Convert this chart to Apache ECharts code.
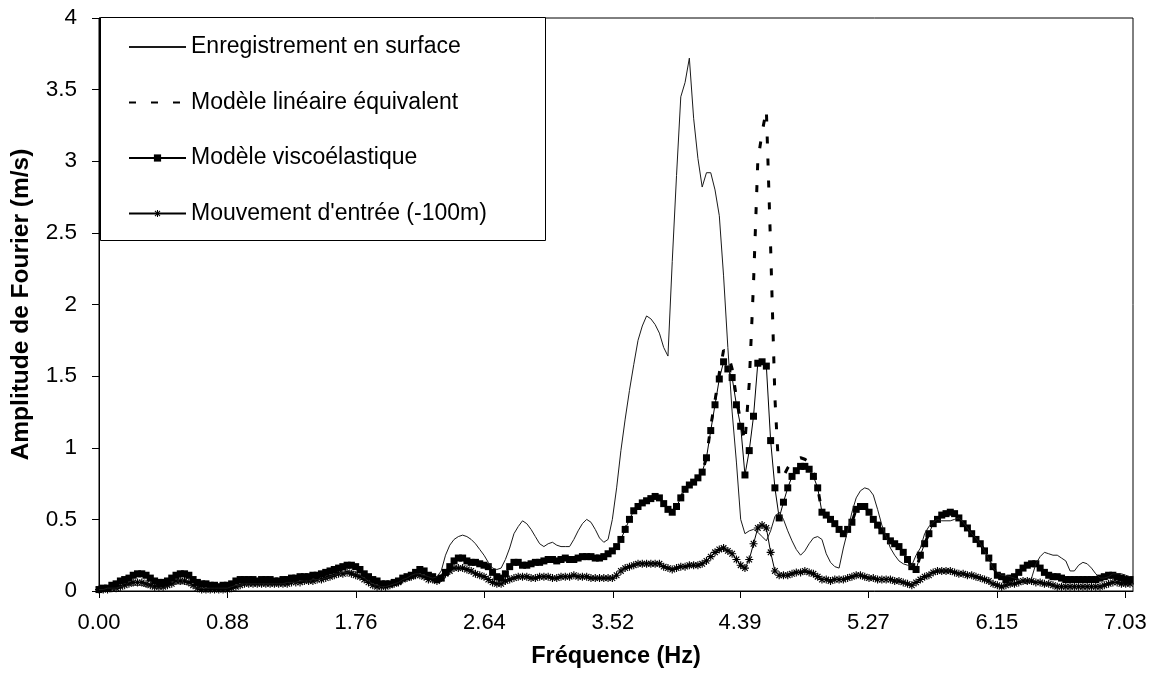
<!DOCTYPE html>
<html>
<head>
<meta charset="utf-8">
<script src="https://cdn.jsdelivr.net/npm/echarts@6/dist/echarts.min.js"></script>
<style>
  html, body { margin: 0; padding: 0; background: #fff; }
  #chart { width: 1156px; height: 682px; }
</style>
</head>
<body>
<div id="chart"></div>
<script>
// Spectral line spacing of the Fourier spectra (Hz)
const FREQ_STEP = 0.0293;

// Frequency tick labels (every 30 spectral lines)
const xTickLabels = ['0.00', '0.88', '1.76', '2.64', '3.52', '4.39', '5.27', '6.15', '7.03'];

const seriesNames = [
  'Enregistrement en surface',
  'Modèle linéaire équivalent',
  'Modèle viscoélastique',
  "Mouvement d'entrée (-100m)"
];

// Fourier amplitude (m/s), one value per spectral line
const surface = [
  0.01, 0.01, 0.02, 0.02, 0.02, 0.03, 0.03, 0.04, 0.04, 0.04,
  0.04, 0.03, 0.03, 0.02, 0.02, 0.02, 0.03, 0.04, 0.05, 0.05,
  0.05, 0.04, 0.03, 0.02, 0.02, 0.02, 0.02, 0.02, 0.02, 0.02,
  0.02, 0.03, 0.04, 0.04, 0.05, 0.05, 0.05, 0.05, 0.05, 0.05,
  0.05, 0.05, 0.05, 0.05, 0.06, 0.06, 0.06, 0.07, 0.07, 0.07,
  0.08, 0.08, 0.08, 0.09, 0.10, 0.11, 0.12, 0.13, 0.13, 0.14,
  0.13, 0.11, 0.09, 0.07, 0.05, 0.04, 0.03, 0.03, 0.04, 0.05,
  0.06, 0.08, 0.09, 0.11, 0.12, 0.12, 0.11, 0.10, 0.09, 0.10,
  0.14, 0.25, 0.32, 0.36, 0.38, 0.39, 0.38, 0.36, 0.33, 0.29,
  0.25, 0.20, 0.16, 0.15, 0.16, 0.22, 0.30, 0.40, 0.45, 0.49,
  0.47, 0.43, 0.38, 0.33, 0.31, 0.33, 0.34, 0.32, 0.31, 0.31,
  0.31, 0.36, 0.42, 0.47, 0.50, 0.48, 0.43, 0.37, 0.34, 0.36,
  0.50, 0.72, 0.98, 1.20, 1.40, 1.58, 1.75, 1.85, 1.92, 1.90,
  1.86, 1.80, 1.70, 1.64, 2.30, 2.90, 3.45, 3.55, 3.72, 3.30,
  3.02, 2.82, 2.92, 2.92, 2.80, 2.62, 2.20, 1.70, 1.25, 0.90,
  0.50, 0.40, 0.42, 0.43, 0.41, 0.38, 0.35, 0.42, 0.52, 0.55,
  0.50, 0.42, 0.35, 0.29, 0.25, 0.28, 0.33, 0.37, 0.38, 0.36,
  0.26, 0.20, 0.17, 0.16, 0.30, 0.42, 0.55, 0.65, 0.70, 0.72,
  0.71, 0.67, 0.57, 0.46, 0.38, 0.30, 0.25, 0.21, 0.19, 0.18,
  0.18, 0.25, 0.30, 0.40, 0.45, 0.48, 0.50, 0.49, 0.49, 0.49,
  0.50, 0.51, 0.48, 0.44, 0.40, 0.37, 0.33, 0.28, 0.22, 0.16,
  0.13, 0.11, 0.11, 0.10, 0.09, 0.08, 0.06, 0.05, 0.09, 0.19,
  0.24, 0.27, 0.26, 0.25, 0.25, 0.23, 0.21, 0.14, 0.14, 0.18,
  0.20, 0.19, 0.16, 0.12, 0.09, 0.09, 0.10, 0.12, 0.12, 0.12,
  0.11, 0.10
];

const linearEquivalent = [
  0.01, 0.02, 0.02, 0.04, 0.05, 0.07, 0.08, 0.09, 0.11, 0.12,
  0.12, 0.11, 0.09, 0.07, 0.06, 0.06, 0.07, 0.09, 0.11, 0.12,
  0.12, 0.11, 0.08, 0.06, 0.05, 0.05, 0.04, 0.04, 0.03, 0.04,
  0.04, 0.05, 0.07, 0.08, 0.08, 0.08, 0.08, 0.07, 0.08, 0.08,
  0.08, 0.07, 0.07, 0.08, 0.08, 0.09, 0.09, 0.10, 0.10, 0.10,
  0.11, 0.11, 0.12, 0.13, 0.14, 0.15, 0.16, 0.17, 0.18, 0.18,
  0.17, 0.15, 0.12, 0.10, 0.08, 0.07, 0.05, 0.05, 0.05, 0.06,
  0.07, 0.09, 0.10, 0.11, 0.13, 0.15, 0.14, 0.11, 0.10, 0.08,
  0.09, 0.13, 0.17, 0.21, 0.23, 0.23, 0.21, 0.20, 0.20, 0.19,
  0.18, 0.17, 0.13, 0.10, 0.09, 0.12, 0.17, 0.20, 0.20, 0.18,
  0.18, 0.19, 0.20, 0.20, 0.21, 0.22, 0.22, 0.21, 0.22, 0.23,
  0.22, 0.22, 0.23, 0.24, 0.24, 0.24, 0.23, 0.23, 0.24, 0.26,
  0.28, 0.31, 0.36, 0.43, 0.50, 0.56, 0.59, 0.615, 0.63, 0.645,
  0.66, 0.65, 0.61, 0.57, 0.55, 0.59, 0.65, 0.71, 0.74, 0.76,
  0.79, 0.83, 0.93, 1.15, 1.33, 1.52, 1.68, 1.66, 1.55, 1.35,
  1.18, 1.04, 1.45, 2.15, 3.00, 3.20, 3.36, 2.40, 1.35, 0.78,
  0.80, 0.86, 0.90, 0.92, 0.93, 0.92, 0.90, 0.83, 0.72, 0.55,
  0.53, 0.50, 0.47, 0.43, 0.40, 0.43, 0.48, 0.57, 0.59, 0.59,
  0.55, 0.50, 0.46, 0.42, 0.38, 0.35, 0.33, 0.31, 0.27, 0.22,
  0.17, 0.15, 0.25, 0.33, 0.40, 0.47, 0.50, 0.53, 0.54, 0.55,
  0.54, 0.51, 0.47, 0.44, 0.40, 0.36, 0.33, 0.28, 0.23, 0.17,
  0.11, 0.10, 0.08, 0.09, 0.10, 0.13, 0.16, 0.18, 0.19, 0.19,
  0.16, 0.13, 0.11, 0.10, 0.10, 0.09, 0.08, 0.08, 0.08, 0.08,
  0.08, 0.08, 0.08, 0.08, 0.09, 0.10, 0.11, 0.11, 0.10, 0.09,
  0.08, 0.08
];

const viscoelastic = [
  0.01, 0.02, 0.02, 0.04, 0.05, 0.07, 0.08, 0.09, 0.11, 0.12,
  0.12, 0.11, 0.09, 0.07, 0.06, 0.06, 0.07, 0.09, 0.11, 0.12,
  0.12, 0.11, 0.08, 0.06, 0.05, 0.05, 0.04, 0.04, 0.03, 0.04,
  0.04, 0.05, 0.07, 0.08, 0.08, 0.08, 0.08, 0.07, 0.08, 0.08,
  0.08, 0.07, 0.07, 0.08, 0.08, 0.09, 0.09, 0.10, 0.10, 0.10,
  0.11, 0.11, 0.12, 0.13, 0.14, 0.15, 0.16, 0.17, 0.18, 0.18,
  0.17, 0.15, 0.12, 0.10, 0.08, 0.07, 0.05, 0.05, 0.05, 0.06,
  0.07, 0.09, 0.10, 0.11, 0.13, 0.15, 0.14, 0.11, 0.10, 0.08,
  0.09, 0.13, 0.17, 0.21, 0.23, 0.23, 0.21, 0.20, 0.20, 0.19,
  0.18, 0.17, 0.13, 0.10, 0.09, 0.12, 0.17, 0.20, 0.20, 0.18,
  0.18, 0.19, 0.20, 0.20, 0.21, 0.22, 0.22, 0.21, 0.22, 0.23,
  0.22, 0.22, 0.23, 0.24, 0.24, 0.24, 0.23, 0.23, 0.24, 0.26,
  0.28, 0.31, 0.36, 0.43, 0.50, 0.56, 0.59, 0.615, 0.63, 0.645,
  0.66, 0.65, 0.61, 0.57, 0.55, 0.59, 0.65, 0.71, 0.74, 0.76,
  0.79, 0.83, 0.93, 1.12, 1.30, 1.48, 1.60, 1.55, 1.49, 1.30,
  1.15, 0.81, 0.98, 1.22, 1.59, 1.60, 1.57, 1.05, 0.72, 0.51,
  0.62, 0.72, 0.80, 0.84, 0.87, 0.87, 0.85, 0.80, 0.72, 0.55,
  0.53, 0.50, 0.47, 0.43, 0.40, 0.43, 0.48, 0.57, 0.59, 0.59,
  0.55, 0.50, 0.46, 0.42, 0.38, 0.35, 0.33, 0.31, 0.27, 0.22,
  0.17, 0.15, 0.25, 0.33, 0.40, 0.47, 0.50, 0.53, 0.54, 0.55,
  0.54, 0.51, 0.47, 0.44, 0.40, 0.36, 0.33, 0.28, 0.23, 0.17,
  0.11, 0.10, 0.08, 0.09, 0.10, 0.13, 0.16, 0.18, 0.19, 0.19,
  0.16, 0.13, 0.11, 0.10, 0.10, 0.09, 0.08, 0.08, 0.08, 0.08,
  0.08, 0.08, 0.08, 0.08, 0.09, 0.10, 0.11, 0.11, 0.10, 0.09,
  0.08, 0.08
];

const inputMotion = [
  0.01, 0.01, 0.01, 0.02, 0.02, 0.03, 0.04, 0.05, 0.06, 0.06,
  0.06, 0.05, 0.04, 0.03, 0.03, 0.03, 0.04, 0.05, 0.07, 0.07,
  0.07, 0.06, 0.04, 0.02, 0.01, 0.01, 0.01, 0.01, 0.01, 0.01,
  0.01, 0.02, 0.03, 0.04, 0.05, 0.05, 0.05, 0.05, 0.05, 0.05,
  0.05, 0.05, 0.05, 0.05, 0.05, 0.06, 0.06, 0.06, 0.07, 0.07,
  0.07, 0.08, 0.08, 0.09, 0.10, 0.11, 0.12, 0.12, 0.13, 0.12,
  0.11, 0.10, 0.08, 0.06, 0.04, 0.03, 0.03, 0.03, 0.04, 0.05,
  0.06, 0.08, 0.09, 0.10, 0.11, 0.11, 0.10, 0.08, 0.08, 0.07,
  0.09, 0.12, 0.14, 0.16, 0.16, 0.16, 0.15, 0.14, 0.12, 0.11,
  0.10, 0.08, 0.06, 0.05, 0.05, 0.07, 0.08, 0.09, 0.10, 0.10,
  0.10, 0.09, 0.09, 0.10, 0.10, 0.10, 0.09, 0.09, 0.10, 0.10,
  0.10, 0.11, 0.10, 0.10, 0.10, 0.09, 0.09, 0.09, 0.09, 0.09,
  0.09, 0.11, 0.14, 0.16, 0.17, 0.18, 0.19, 0.19, 0.19, 0.19,
  0.19, 0.19, 0.17, 0.16, 0.15, 0.16, 0.17, 0.17, 0.18, 0.18,
  0.18, 0.19, 0.21, 0.24, 0.27, 0.29, 0.30, 0.28, 0.26, 0.22,
  0.18, 0.16, 0.22, 0.33, 0.44, 0.46, 0.44, 0.27, 0.14, 0.11,
  0.11, 0.11, 0.12, 0.13, 0.13, 0.14, 0.13, 0.12, 0.10, 0.08,
  0.08, 0.07, 0.08, 0.08, 0.08, 0.09, 0.10, 0.11, 0.11, 0.10,
  0.09, 0.09, 0.08, 0.08, 0.08, 0.08, 0.07, 0.07, 0.06, 0.05,
  0.04, 0.06, 0.08, 0.10, 0.11, 0.13, 0.14, 0.14, 0.14, 0.14,
  0.13, 0.12, 0.12, 0.11, 0.11, 0.10, 0.09, 0.08, 0.07, 0.05,
  0.04, 0.03, 0.04, 0.05, 0.05, 0.06, 0.07, 0.07, 0.07, 0.06,
  0.06, 0.05, 0.05, 0.04, 0.03, 0.03, 0.03, 0.03, 0.03, 0.03,
  0.03, 0.03, 0.03, 0.03, 0.03, 0.04, 0.05, 0.06, 0.06, 0.05,
  0.05, 0.05
];

const FONT = '"Liberation Sans", Arial, sans-serif';
// Filled eight-branch asterisk marker (all sub-paths share one winding)
const ASTERISK = 'path://M4.3,0L5.7,0L5.7,10L4.3,10Z' +
  'M0,4.3L10,4.3L10,5.7L0,5.7Z' +
  'M1,2L2,1L9,8L8,9Z' +
  'M8,1L9,2L2,9L1,8Z';

// Pair each amplitude with the frequency of its spectral line
const toPoints = values => values.map((v, i) => [i * FREQ_STEP, v]);
const xTickValues = xTickLabels.map(Number);

const chart = echarts.init(document.getElementById('chart'), null, { renderer: 'canvas' });

chart.setOption({
  animation: false,
  backgroundColor: '#fff',
  textStyle: { fontFamily: FONT, color: '#000' },
  grid: {
    left: 99, right: 23, top: 18, bottom: 91,
    show: true, borderColor: '#000', borderWidth: 1, backgroundColor: 'transparent'
  },
  xAxis: {
    type: 'value',
    min: 0,
    max: 7.082,
    name: 'Fréquence (Hz)',
    nameLocation: 'middle',
    nameGap: 54,
    nameTextStyle: { fontFamily: FONT, fontSize: 23.5, fontWeight: 'bold', color: '#000' },
    axisLine: { lineStyle: { color: '#000', width: 1 } },
    axisTick: { show: true, length: 7, lineStyle: { color: '#000' }, customValues: xTickValues },
    axisLabel: {
      customValues: xTickValues,
      margin: 21,
      fontFamily: FONT, fontSize: 22, color: '#000',
      formatter: v => xTickLabels[xTickValues.indexOf(v)] ?? ''
    },
    splitLine: { show: false }
  },
  yAxis: {
    type: 'value',
    min: 0,
    max: 4,
    interval: 0.5,
    name: 'Amplitude de Fourier (m/s)',
    nameLocation: 'middle',
    nameGap: 65,
    nameTextStyle: { fontFamily: FONT, fontSize: 24.5, fontWeight: 'bold', color: '#000' },
    axisLine: { show: true, lineStyle: { color: '#000', width: 1 } },
    axisTick: { show: true, length: 7, lineStyle: { color: '#000' } },
    axisLabel: { margin: 22, fontFamily: FONT, fontSize: 22.5, color: '#000' },
    splitLine: { show: false }
  },
  graphic: [{
    type: 'rect',
    z: 3,
    shape: { x: 100.5, y: 17.5, width: 445, height: 223 },
    style: { fill: '#fff', stroke: '#000', lineWidth: 1 }
  }],
  legend: {
    orient: 'vertical',
    left: 128,
    top: 35,
    z: 4,
    padding: 0,
    itemWidth: 57,
    itemHeight: 9,
    itemGap: 31.5,
    selectedMode: false,
    textStyle: { fontFamily: FONT, fontSize: 23, lineHeight: 24, color: '#000' },
    data: [
      { name: seriesNames[0], itemStyle: { opacity: 0 } },
      { name: seriesNames[1], itemStyle: { opacity: 0 } },
      { name: seriesNames[2] },
      { name: seriesNames[3] }
    ]
  },
  series: [
    {
      name: seriesNames[1],
      type: 'line',
      data: toPoints(linearEquivalent),
      symbol: 'none',
      lineStyle: { color: '#000', width: 3, type: [7, 15] },
      itemStyle: { color: '#000' },
      z: 2
    },
    {
      name: seriesNames[2],
      type: 'line',
      data: toPoints(viscoelastic),
      symbol: 'rect',
      symbolSize: 7,
      showSymbol: true,
      showAllSymbol: true,
      lineStyle: { color: '#000', width: 1 },
      itemStyle: { color: '#000', borderWidth: 0 },
      z: 3
    },
    {
      name: seriesNames[3],
      type: 'line',
      data: toPoints(inputMotion),
      symbol: ASTERISK,
      symbolSize: 8,
      showSymbol: true,
      showAllSymbol: true,
      lineStyle: { color: '#000', width: 1 },
      itemStyle: { color: '#000', borderWidth: 0 },
      z: 4
    },
    {
      name: seriesNames[0],
      type: 'line',
      data: toPoints(surface),
      symbol: 'none',
      lineStyle: { color: '#1a1a1a', width: 1 },
      itemStyle: { color: '#1a1a1a' },
      z: 5
    }
  ]
});
</script>
</body>
</html>
